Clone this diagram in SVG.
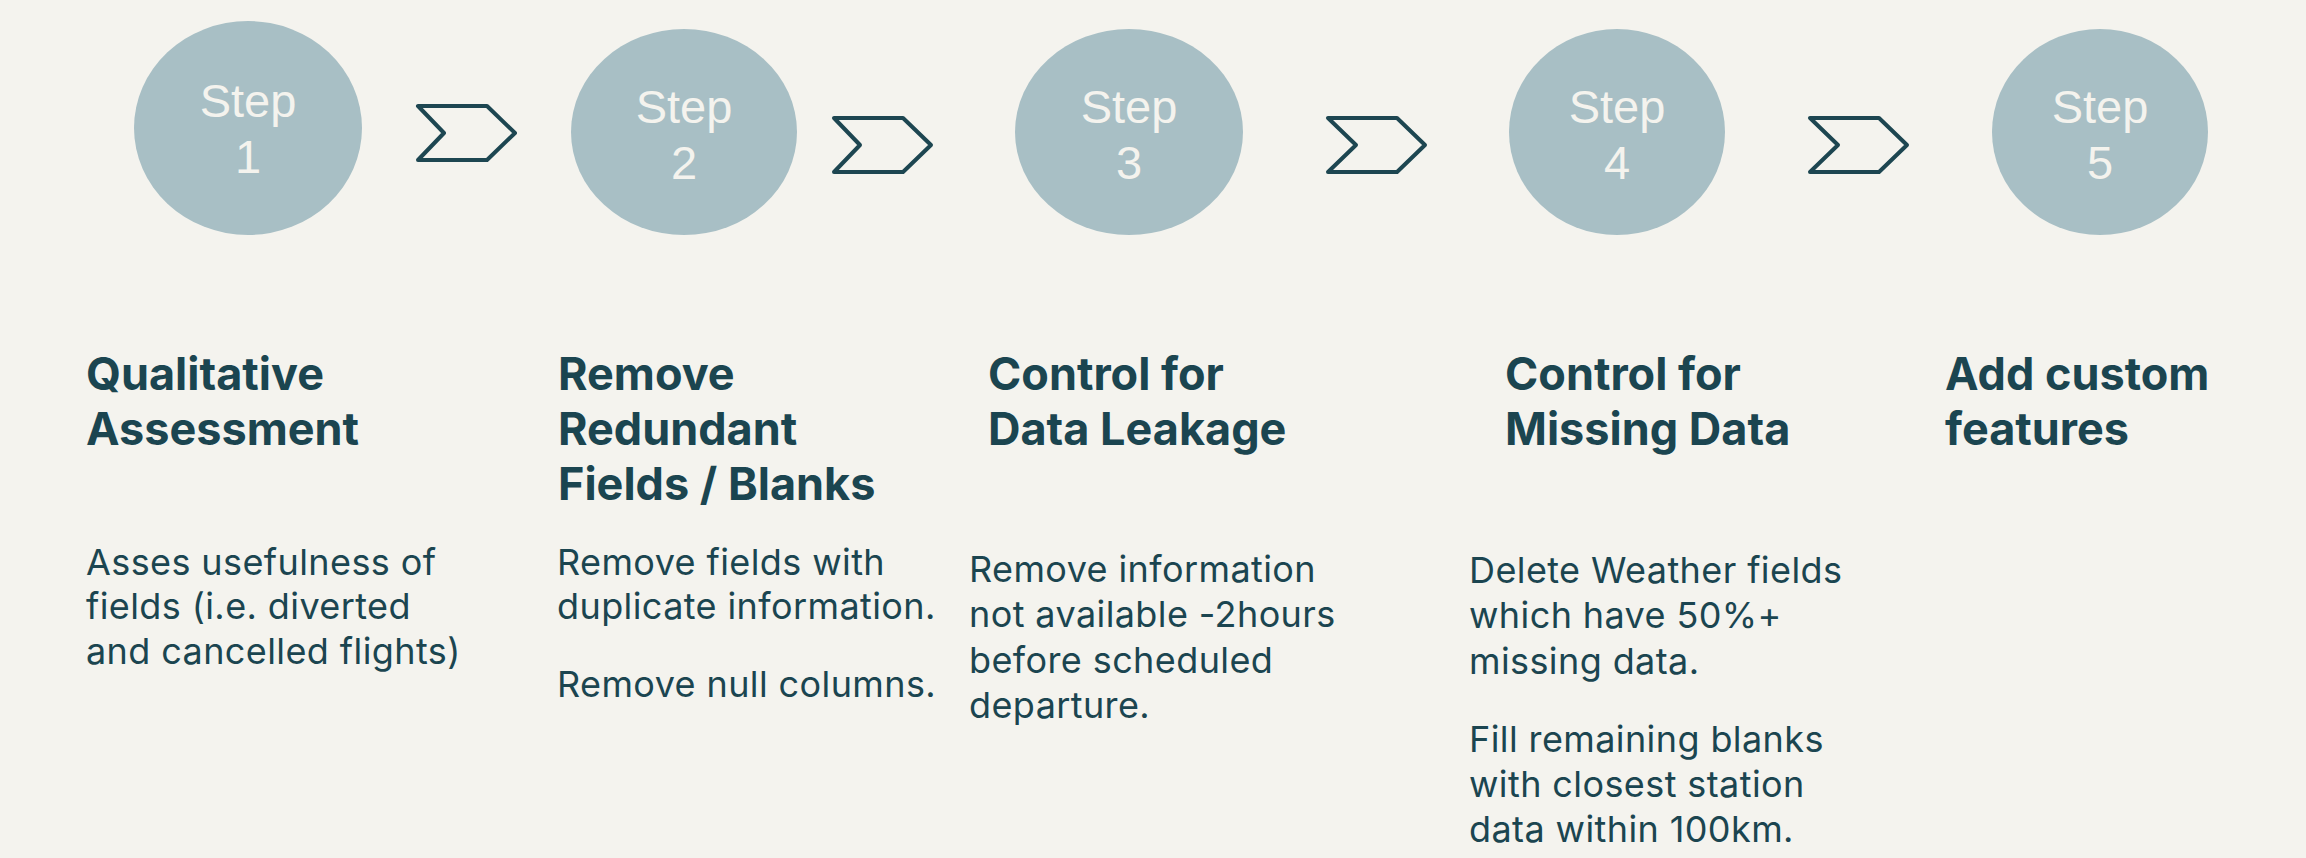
<svg xmlns="http://www.w3.org/2000/svg" width="2306" height="858" viewBox="0 0 2306 858">
<style>
.bg{fill:#f4f3ee}
.circ{fill:#a8bfc5}
.step{font-family:"Liberation Sans",Arial,sans-serif;font-size:47px;fill:#f4f3ee;text-anchor:middle}
.chev{fill:none;stroke:#1d4651;stroke-width:4;stroke-linejoin:round}
.head{font-family:Inter,"Noto Sans",sans-serif;font-weight:700;font-size:45px;fill:#1b4550}
.body{font-family:Inter,"Noto Sans",sans-serif;font-size:36px;letter-spacing:0.4px;fill:#1b4550}
</style>
<rect class="bg" x="0" y="0" width="2306" height="858"/>
<g id="connectors">
<polygon class="chev" points="418,106 487,106 515,133 487,160 418,160 444,133"/>
<polygon class="chev" points="834,118 903,118 931,145 903,172 834,172 860,145"/>
<polygon class="chev" points="1328,118 1397,118 1425,145 1397,172 1328,172 1356,145"/>
<polygon class="chev" points="1810,118 1879,118 1907,145 1879,172 1810,172 1838,145"/>
</g>
<g id="step1">
<ellipse class="circ" cx="248" cy="128" rx="114" ry="107"/>
<text class="step" x="248" y="117">Step</text>
<text class="step" x="248" y="173">1</text>
<text class="head" x="86" y="390">Qualitative</text>
<text class="head" x="86" y="445">Assessment</text>
<text class="body" x="86" y="575">Asses usefulness of</text>
<text class="body" x="86" y="619">fields (i.e. diverted</text>
<text class="body" x="86" y="664">and cancelled flights)</text>
</g>
<g id="step2">
<ellipse class="circ" cx="684" cy="132" rx="113" ry="103"/>
<text class="step" x="684" y="123">Step</text>
<text class="step" x="684" y="179">2</text>
<text class="head" x="558" y="390">Remove</text>
<text class="head" x="558" y="445">Redundant</text>
<text class="head" x="558" y="500">Fields / Blanks</text>
<text class="body" x="557" y="575">Remove fields with</text>
<text class="body" x="557" y="619">duplicate information.</text>
<text class="body" x="557" y="697">Remove null columns.</text>
</g>
<g id="step3">
<ellipse class="circ" cx="1129" cy="132" rx="114" ry="103"/>
<text class="step" x="1129" y="123">Step</text>
<text class="step" x="1129" y="179">3</text>
<text class="head" x="988" y="390">Control for</text>
<text class="head" x="988" y="445">Data Leakage</text>
<text class="body" x="969" y="582">Remove information</text>
<text class="body" x="969" y="627">not available -2hours</text>
<text class="body" x="969" y="673">before scheduled</text>
<text class="body" x="969" y="718">departure.</text>
</g>
<g id="step4">
<ellipse class="circ" cx="1617" cy="132" rx="108" ry="103"/>
<text class="step" x="1617" y="123">Step</text>
<text class="step" x="1617" y="179">4</text>
<text class="head" x="1505" y="390">Control for</text>
<text class="head" x="1505" y="445">Missing Data</text>
<text class="body" x="1469" y="583">Delete Weather fields</text>
<text class="body" x="1469" y="628">which have 50%+</text>
<text class="body" x="1469" y="674">missing data.</text>
<text class="body" x="1469" y="752">Fill remaining blanks</text>
<text class="body" x="1469" y="797">with closest station</text>
<text class="body" x="1469" y="842">data within 100km.</text>
</g>
<g id="step5">
<ellipse class="circ" cx="2100" cy="132" rx="108" ry="103"/>
<text class="step" x="2100" y="123">Step</text>
<text class="step" x="2100" y="179">5</text>
<text class="head" x="1945" y="390">Add custom</text>
<text class="head" x="1945" y="445">features</text>
</g>
</svg>
